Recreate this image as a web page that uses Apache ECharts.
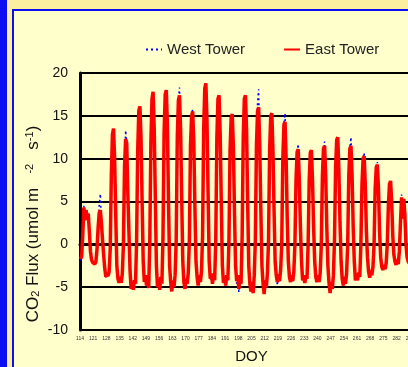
<!DOCTYPE html>
<html>
<head>
<meta charset="utf-8">
<script src="https://cdn.jsdelivr.net/npm/echarts@6/dist/echarts.min.js"></script>
<style>
  html, body { margin: 0; padding: 0; width: 408px; height: 367px; overflow: hidden; background: #FDEFA0; }
  .bar { position: absolute; left: 0; top: 0; width: 7px; height: 367px; background: #0D0DF2; }
  .frame { position: absolute; left: 12px; top: 9px; width: 420px; height: 380px;
           border-left: 2px solid #0D0DF2; border-top: 2px solid #0D0DF2; background: #FFFFCC; }
  #chart { position: absolute; left: 0; top: 0; width: 460px; height: 367px; }
</style>
</head>
<body>
<div class="bar"></div>
<div class="frame"></div>
<div id="chart"></div>
<script>
// weekly mean diurnal courses, one cycle per 7-day block (2-hourly means)
const weekStarts = [114, 121, 128, 135, 142, 149, 156, 163, 170, 177, 184, 191, 198,
                    205, 212, 219, 226, 233, 240, 247, 254, 261, 268, 275, 282];
const hours = [1, 3, 5, 7, 9, 11, 13, 15, 17, 19, 21, 23];

const eastFlux = [
  [-1.7, -1.4, 1.0, 4.3, 2.8, 4.0, 3.2, 3.6, 1.5, -0.8, -1.8, -2.1],
  [-2.1, -2.3, -2.0, -0.5, 2.0, 3.7, 4.0, 2.5, 0.5, -1.2, -2.8, -3.8],
  [-3.4, -3.7, -3.2, -0.5, 8.0, 12.8, 13.5, 10.0, 3.5, -2.5, -4.0, -4.5],
  [-3.8, -4.5, -3.4, 0.0, 9.0, 12.3, 11.8, 6.0, 1.5, -3.0, -5.2, -4.4],
  [-5.3, -4.2, -4.6, 0.5, 11.0, 15.6, 16.1, 12.5, 5.0, -2.0, -4.4, -3.6],
  [-4.8, -3.9, -5.1, 0.5, 12.0, 17.0, 17.8, 13.5, 5.5, -2.5, -5.0, -4.2],
  [-5.3, -3.8, -4.6, 1.0, 13.0, 17.5, 18.0, 14.0, 5.0, -2.5, -4.4, -5.5],
  [-4.2, -5.0, -3.6, 0.5, 12.5, 16.8, 17.4, 13.5, 5.5, -2.0, -4.4, -5.2],
  [-4.0, -4.6, -3.3, 0.5, 11.5, 15.0, 15.5, 12.0, 4.5, -2.0, -3.8, -4.8],
  [-3.6, -4.4, -3.2, 1.0, 13.5, 18.2, 18.8, 14.5, 6.0, -2.0, -4.0, -3.4],
  [-4.6, -3.5, -4.2, 0.5, 12.5, 17.0, 17.4, 13.0, 5.0, -2.5, -4.5, -3.8],
  [-4.8, -3.6, -4.2, 0.5, 11.0, 14.8, 15.2, 11.5, 4.0, -2.5, -4.3, -3.6],
  [-5.2, -4.0, -4.6, 1.0, 12.5, 17.0, 17.4, 13.5, 5.0, -2.5, -4.6, -5.5],
  [-4.4, -5.7, -3.6, 0.5, 11.5, 15.5, 16.0, 11.5, 4.0, -2.5, -4.6, -5.8],
  [-4.2, -5.0, -3.3, 0.5, 11.0, 15.0, 15.3, 11.0, 4.0, -2.0, -3.6, -4.4],
  [-3.5, -4.3, -3.0, 0.0, 10.0, 14.0, 14.3, 10.0, 3.0, -2.0, -3.8, -4.4],
  [-3.6, -4.3, -3.2, 0.0, 7.5, 10.8, 11.1, 7.5, 2.0, -2.0, -4.2, -3.8],
  [-4.5, -3.6, -4.0, 0.0, 7.5, 10.7, 11.0, 7.5, 2.0, -2.0, -3.8, -4.4],
  [-3.6, -4.4, -3.3, 0.0, 8.0, 11.2, 11.5, 8.0, 2.0, -2.5, -4.5, -5.7],
  [-4.4, -5.2, -3.6, 0.5, 9.0, 12.2, 12.5, 8.5, 2.5, -2.0, -4.0, -4.8],
  [-3.8, -4.6, -3.4, 0.0, 8.0, 11.2, 11.5, 8.0, 2.0, -2.0, -4.2, -3.6],
  [-4.2, -3.3, -3.8, 0.0, 7.0, 10.0, 10.3, 7.0, 1.5, -1.5, -3.2, -3.9],
  [-3.0, -3.6, -2.6, 0.0, 6.5, 9.0, 9.3, 6.5, 1.5, -1.5, -2.6, -3.0],
  [-2.4, -2.9, -2.2, 0.0, 4.5, 7.0, 7.4, 5.0, 1.0, -1.2, -2.0, -2.4],
  [-1.8, -2.3, -0.8, 2.5, 5.5, 3.0, 5.3, 3.5, 0.0, -1.5, -2.0, -2.2]
];

const westFlux = [
  [-1.9, -1.4, 1.0, 4.5, 2.8, 4.0, 3.2, 3.6, 1.5, -0.8, -1.8, -2.1],
  [-2.1, -2.3, -2.0, -0.5, 2.0, 4.6, 5.9, 2.5, 0.5, -1.2, -2.8, -4.0],
  [-3.4, -3.7, -3.2, -0.5, 8.0, 12.8, 13.5, 10.0, 3.5, -2.5, -4.2, -4.5],
  [-3.8, -4.5, -3.4, 0.0, 9.0, 13.3, 11.8, 6.0, 1.5, -3.0, -5.2, -4.4],
  [-5.3, -4.2, -4.6, 0.5, 11.0, 15.6, 16.1, 11.5, 5.0, -2.0, -4.4, -3.6],
  [-4.8, -3.9, -5.1, 0.5, 12.0, 17.0, 17.6, 12.5, 5.5, -2.5, -5.0, -4.2],
  [-5.3, -3.8, -4.6, 1.0, 13.0, 17.5, 18.0, 13.0, 5.0, -2.5, -4.8, -5.5],
  [-4.2, -5.0, -3.6, 0.5, 12.5, 16.8, 18.3, 13.5, 5.5, -2.0, -4.4, -5.2],
  [-4.0, -4.6, -3.3, 0.5, 11.5, 15.0, 15.8, 12.0, 4.5, -2.0, -3.8, -4.8],
  [-3.6, -4.4, -3.2, 1.0, 13.5, 18.2, 18.8, 14.5, 6.0, -2.0, -4.0, -3.8],
  [-4.6, -3.5, -4.2, 0.5, 12.5, 17.0, 17.4, 13.0, 5.0, -2.5, -4.5, -3.8],
  [-4.8, -3.6, -4.2, 0.5, 11.0, 14.8, 15.2, 11.5, 4.0, -2.5, -4.6, -3.6],
  [-5.6, -4.0, -4.6, 1.0, 12.5, 17.0, 17.4, 13.5, 5.0, -2.5, -4.6, -5.5],
  [-4.4, -5.7, -3.6, 0.5, 11.5, 16.5, 18.1, 11.5, 4.0, -2.5, -4.6, -5.8],
  [-4.2, -5.0, -3.3, 0.5, 11.0, 15.0, 15.3, 11.0, 4.0, -2.0, -3.6, -4.8],
  [-3.5, -4.3, -3.0, 0.0, 10.0, 14.0, 15.3, 10.0, 3.0, -2.0, -3.8, -4.4],
  [-3.6, -4.3, -3.2, 0.0, 7.5, 10.8, 11.7, 7.5, 2.0, -2.0, -4.2, -3.8],
  [-4.5, -3.6, -4.0, 0.0, 7.5, 10.7, 11.0, 7.5, 2.0, -2.0, -3.8, -4.4],
  [-3.6, -4.4, -3.3, 0.0, 8.0, 11.2, 12.0, 8.0, 2.0, -2.5, -4.5, -5.7],
  [-4.4, -5.2, -3.6, 0.5, 9.0, 12.2, 12.5, 8.5, 2.5, -2.0, -4.0, -4.8],
  [-3.8, -4.6, -3.4, 0.0, 8.0, 11.2, 12.5, 8.0, 2.0, -2.0, -4.2, -3.6],
  [-4.2, -3.3, -3.8, 0.0, 7.0, 10.0, 10.7, 7.0, 1.5, -1.5, -3.2, -3.9],
  [-3.0, -3.6, -2.6, 0.0, 6.5, 9.0, 9.6, 6.5, 1.5, -1.5, -2.6, -3.0],
  [-2.4, -2.9, -2.2, 0.0, 4.5, 7.0, 7.4, 5.0, 1.0, -1.2, -2.0, -2.4],
  [-1.8, -2.3, -0.8, 2.5, 5.8, 3.0, 5.3, 3.5, 0.0, -1.5, -2.0, -2.2]
];

// axis ticks
const xMin = 114, xMax = 296, xStep = 7;
const yMin = -10, yMax = 20, yStep = 5;

const FONT = 'Liberation Sans, Arial, sans-serif';

function toPoints(rows) {
  const pts = [];
  weekStarts.forEach((start, w) => {
    hours.forEach((h, i) => pts.push([start + h / 24 * 7, rows[w][i]]));
  });
  return pts;
}

const myChart = echarts.init(document.getElementById('chart'));
myChart.setOption({
  animation: false,
  backgroundColor: 'transparent',
  grid: { left: 80, top: 73, width: 343, height: 257, outerBoundsMode: 'none' },
  legend: {
    data: ['West Tower', 'East Tower'],
    left: 145, top: 42, padding: 0,
    itemWidth: 16, itemHeight: 14, itemGap: 38,
    itemStyle: { opacity: 0 },
    textStyle: { fontFamily: FONT, fontSize: 15, color: '#222' }
  },
  xAxis: {
    type: 'value', min: xMin, max: xMax, interval: xStep,
    name: 'DOY', nameLocation: 'middle', nameGap: 19,
    nameTextStyle: { fontFamily: FONT, fontSize: 15, color: '#111' },
    axisLine: { lineStyle: { color: '#000', width: 3 } },
    axisTick: { show: false },
    splitLine: { show: false },
    axisLabel: { fontFamily: FONT, fontSize: 5, color: '#333', margin: 6 }
  },
  yAxis: {
    type: 'value', min: yMin, max: yMax, interval: yStep,
    axisLine: { show: true, lineStyle: { color: '#000', width: 3 } },
    axisTick: { show: false },
    splitLine: { lineStyle: { color: '#000', width: 2 } },
    axisLabel: { fontFamily: FONT, fontSize: 14, color: '#111', margin: 12 }
  },
  graphic: [{
    type: 'text', x: 33, y: 224, rotation: Math.PI / 2,
    style: {
      text: 'CO{sub|2} Flux (umol m   {sup|-2}   s{sup|-1})',
      fontFamily: FONT, fontSize: 17, fill: '#111',
      align: 'center', verticalAlign: 'middle',
      rich: {
        sub: { fontSize: 11, verticalAlign: 'bottom', fill: '#111', fontFamily: FONT },
        sup: { fontSize: 11, verticalAlign: 'top', fill: '#111', fontFamily: FONT }
      }
    }
  }],
  series: [
    {
      name: 'West Tower', type: 'line', showSymbol: false, symbol: 'none',
      data: toPoints(westFlux),
      lineStyle: { color: '#0000FF', width: 1.5, type: [2, 3] },
      itemStyle: { color: '#0000FF' }
    },
    {
      name: 'East Tower', type: 'line', showSymbol: false, symbol: 'none',
      data: toPoints(eastFlux),
      lineStyle: { color: '#FF0000', width: 3.5 },
      itemStyle: { color: '#FF0000' }
    }
  ]
});
</script>
</body>
</html>
